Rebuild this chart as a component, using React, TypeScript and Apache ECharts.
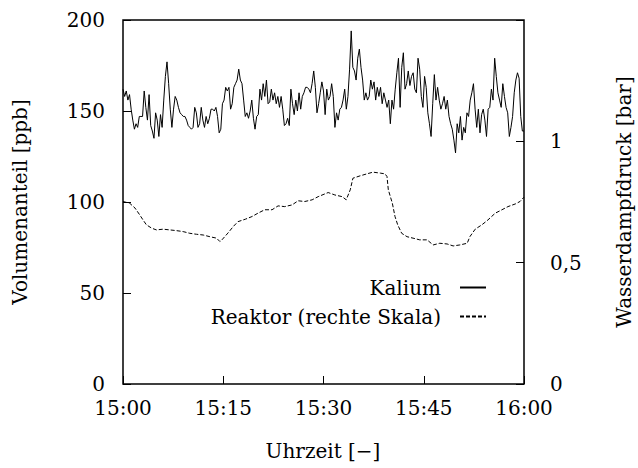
import React, { useEffect, useRef } from "react";
import * as echarts from "echarts";

const xTickLabels = ["15:00", "15:15", "15:30", "15:45", "16:00"];
const xTickMinutes = [0, 15, 30, 45, 60];
const xTitle = "Uhrzeit [−]";
const yLeftTitle = "Volumenanteil [ppb]";
const yRightTitle = "Wasserdampfdruck [bar]";

const kaliumStartMin = 0;
const kaliumEndMin = 60;
const kaliumPpb = [
  162, 158, 161, 156, 159, 151, 145, 140, 143, 141,
  147, 147, 147, 161, 152, 145, 159, 142, 139, 135,
  149, 145, 136, 148, 141, 156, 169, 177, 165, 151,
  141, 151, 158, 156, 152, 149, 148, 147, 147, 145,
  142, 141, 140, 141, 152, 149, 141, 143, 152, 145,
  141, 147, 143, 146, 151, 151, 150, 152, 147, 138,
  140, 154, 156, 163, 161, 163, 151, 154, 163, 165,
  167, 173, 167, 165, 156, 147, 149, 146, 150, 156,
  146, 140, 147, 148, 162, 156, 165, 158, 167, 154,
  155, 162, 156, 160, 154, 158, 152, 158, 151, 142,
  143, 146, 142, 162, 154, 148, 156, 150, 160, 151,
  158, 160, 163, 163, 162, 160, 165, 172, 163, 149,
  154, 160,
  166, 161, 148, 162, 156, 158, 165, 158, 141, 149,
  145, 151, 152, 156, 162, 151, 158, 173, 194, 174,
  172, 167, 179, 184, 174, 167, 156, 160, 156, 158,
  167, 162, 166, 156, 163, 158, 163, 154, 160, 156,
  152, 156, 143, 156, 151, 162, 171, 179, 152, 174,
  182, 162, 165, 172, 164, 169, 171, 162, 160, 179,
  173, 158, 152, 169, 163, 149, 143, 136, 154, 170,
  156, 163, 156, 151, 154, 158, 151, 156, 147, 143,
  140, 134, 127, 143, 138, 147, 134, 141, 138, 149,
  147, 156, 160, 165, 151, 141, 151, 138, 148, 151,
  145, 136, 151, 152, 162, 156, 179, 169, 160, 156,
  152, 165, 158, 152, 149, 136, 141, 147, 160, 167,
  171, 168, 147, 139, 139,
];

const reaktorMin = [
  0.0, 1.0, 1.8, 2.5, 3.0, 3.5, 4.3, 5.0, 6.0, 7.0,
  8.0, 9.0, 10.0, 11.0, 12.0, 13.0, 14.0, 14.5, 14.8, 15.7,
  16.5, 17.2, 18.3, 19.3, 20.2, 21.2, 22.3, 23.2, 24.2, 25.3,
  26.2, 27.2, 28.3, 29.2, 30.7, 31.7, 32.8, 33.4, 34.0, 34.4,
  35.5, 36.5, 37.4, 38.5, 39.2, 39.5, 39.7, 40.3, 40.7, 41.1,
  41.7, 42.5, 43.4, 44.4, 45.5, 46.4, 47.4, 48.5, 49.4, 50.4,
  51.5, 51.9, 52.7, 53.7, 54.6, 55.7, 56.7, 57.6, 58.7, 59.4,
  60.0,
];
const reaktorBar = [
  0.752, 0.745, 0.725, 0.697, 0.676, 0.656, 0.642, 0.635, 0.638, 0.635,
  0.632, 0.628, 0.621, 0.617, 0.614, 0.607, 0.601, 0.587, 0.594, 0.622,
  0.649, 0.669, 0.679, 0.69, 0.704, 0.718, 0.718, 0.734, 0.731, 0.738,
  0.755, 0.752, 0.759, 0.772, 0.789, 0.779, 0.772, 0.759, 0.8, 0.848,
  0.858, 0.866, 0.873, 0.869, 0.866, 0.855, 0.8, 0.745, 0.69, 0.656,
  0.621, 0.607, 0.601, 0.594, 0.594, 0.573, 0.58, 0.577, 0.569, 0.573,
  0.58, 0.607, 0.638, 0.656, 0.676, 0.704, 0.718, 0.731, 0.742, 0.752,
  0.77,
];

const FONT = "DejaVu Serif";
const FS = 20;

export default function App() {
  const ref = useRef<HTMLDivElement>(null);

  useEffect(() => {
    const chart = echarts.init(ref.current!, null, { renderer: "svg" });
    const step = (kaliumEndMin - kaliumStartMin) / (kaliumPpb.length - 1);
    const kaliumData = kaliumPpb.map((v, i) => [kaliumStartMin + i * step, v]);
    const reaktorData = reaktorMin.map((m, i) => [m, reaktorBar[i]]);
    const labelStyle = { fontFamily: FONT, fontSize: FS, color: "#000" };
    const titleFont = `${FS}px ${FONT}, serif`;

    chart.setOption({
      animation: false,
      backgroundColor: "#fff",
      textStyle: { fontFamily: FONT },
      graphic: [
        {
          type: "text", x: 20, y: 202, rotation: Math.PI / 2,
          style: { text: yLeftTitle, font: titleFont, fill: "#000", textAlign: "center", textVerticalAlign: "middle" },
        },
        {
          type: "text", x: 624, y: 202, rotation: Math.PI / 2,
          style: { text: yRightTitle, font: titleFont, fill: "#000", textAlign: "center", textVerticalAlign: "middle" },
        },
        {
          type: "text", x: 323, y: 451,
          style: { text: xTitle, font: titleFont, fill: "#000", textAlign: "center", textVerticalAlign: "middle" },
        },
      ],
      grid: {
        left: 123, right: 114, top: 20, bottom: 84,
        show: true, borderColor: "#000", borderWidth: 1.5, outerBoundsMode: "none",
      },
      legend: {
        orient: "vertical", right: 151, top: 273, align: "right", padding: 0,
        itemWidth: 26, itemHeight: 10, itemGap: 0,
        itemStyle: { opacity: 0, borderWidth: 0 },
        textStyle: { ...labelStyle, padding: [0, 14, 0, 0], lineHeight: 29 },
        data: ["Kalium", "Reaktor (rechte Skala)"],
      },
      xAxis: {
        type: "value", min: 0, max: 60, interval: 15,
        axisLine: { show: false },
        axisTick: { show: true, inside: true, length: 8, lineStyle: { color: "#000", width: 1 } },
        axisLabel: {
          ...labelStyle, margin: 14,
          formatter: (v: number) => {
            const idx = xTickMinutes.indexOf(v);
            return idx >= 0 ? xTickLabels[idx] : "";
          },
        },
        splitLine: { show: false },
      },
      yAxis: [
        {
          type: "value", min: 0, max: 200, interval: 50,
          axisLine: { show: false },
          axisTick: { show: true, inside: true, length: 8, lineStyle: { color: "#000", width: 1 } },
          axisLabel: { ...labelStyle, margin: 18 },
          splitLine: { show: false },
        },
        {
          type: "value", position: "right", min: 0, max: 1.5, interval: 0.5,
          axisLine: { show: false },
          axisTick: { show: true, inside: true, length: 8, lineStyle: { color: "#000", width: 1 } },
          axisLabel: {
            ...labelStyle, margin: 26,
            formatter: (v: number) => (v >= 1.5 ? "" : String(v).replace(".", ",")),
          },
          splitLine: { show: false },
        },
      ],
      series: [
        {
          name: "Kalium", type: "line", data: kaliumData, symbol: "none",
          lineStyle: { color: "#000", width: 1 }, itemStyle: { color: "#000" },
        },
        {
          name: "Reaktor (rechte Skala)", type: "line", yAxisIndex: 1, data: reaktorData, symbol: "none",
          lineStyle: { color: "#000", width: 1, type: [4, 2] }, itemStyle: { color: "#000" },
        },
      ],
    });
    return () => chart.dispose();
  }, []);

  return (
    <div ref={ref} style={{ position: "absolute", left: 0, top: 0, width: 638, height: 468 }} />
  );
}
